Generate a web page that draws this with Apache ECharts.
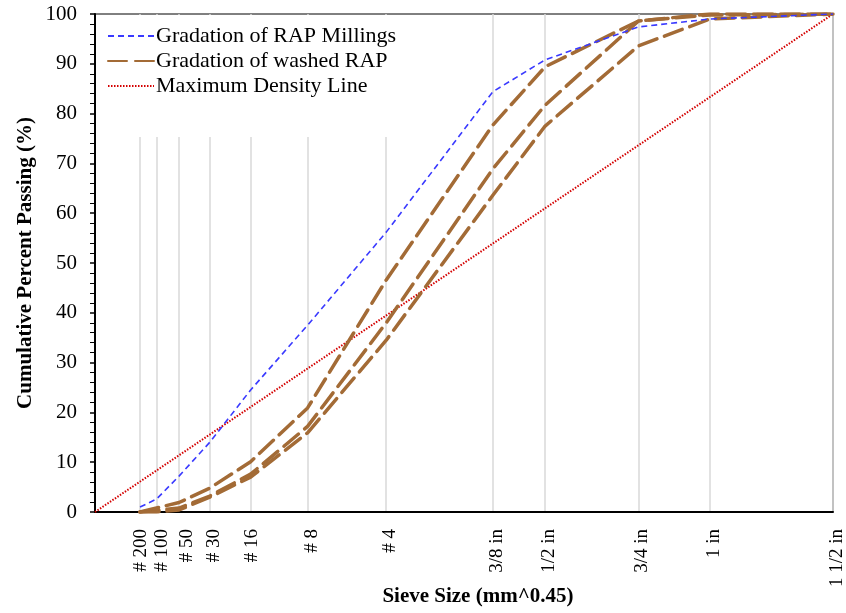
<!DOCTYPE html>
<html>
<head>
<meta charset="utf-8">
<script src="https://cdn.jsdelivr.net/npm/echarts@6/dist/echarts.min.js"></script>
<style>
html, body { margin: 0; padding: 0; background: #fff; }
#chart { width: 846px; height: 613px; }
</style>
</head>
<body>
<div id="chart"></div>
<script>
// sieves (name + opening in mm), x axis is mm^0.45
var sieveNames = ['# 200', '# 100', '# 50', '# 30', '# 16', '# 8', '# 4', '3/8 in', '1/2 in', '3/4 in', '1 in', '1 1/2 in'];
var sieveMm = [0.075, 0.15, 0.3, 0.6, 1.18, 2.36, 4.75, 9.5, 12.5, 19, 25, 37.5];

// percent passing
var rapMillings = [1.0, 2.6, 7.2, 14, 24.5, 37.5, 56.2, 84.4, 90.8, 97.4, 99, 100];
var washedA = [0, 0.8, 1.9, 4.8, 10.1, 20.9, 46.6, 77.7, 89.4, 98.6, 100, 100];
var washedB = [0, 0.3, 0.8, 3.2, 7.6, 17.2, 38, 68.9, 81.7, 98.6, 99.8, 100];
var washedC = [0, 0, 0.4, 3.0, 7.0, 15.9, 34.5, 63.6, 77.5, 93.6, 99, 100];

// maximum density line end points
var mdlMm = [0, 37.5];
var mdlPassing = [0, 100];

var SERIF = "'Liberation Serif', 'Times New Roman', serif";
var POW = 0.45;

function px(mm) { return Math.pow(mm, POW); }
function pairs(sizes, vals) {
	return sizes.map(function (s, i) { return [px(s), vals[i]]; });
}

var sieveX = sieveMm.map(px);
var brown = '#a36b36';

// nudge crowded tick labels sideways (rich style per label)
var labelStyle = { '# 200': 'n', '# 16': 'n', '# 100': 'w', '# 50': 'ww' };

function washed(vals) {
	return {
		name: 'Gradation of washed RAP',
		type: 'line',
		symbol: 'none',
		data: pairs(sieveMm, vals),
		lineStyle: { color: brown, width: 3.5, type: [19, 8], cap: 'round' },
		itemStyle: { color: brown },
		z: 3
	};
}

function tickFont(pad) {
	return { fontFamily: SERIF, fontSize: 19, color: '#000', padding: [pad, 0, 0, 0] };
}

var chart = echarts.init(document.getElementById('chart'));

chart.setOption({
	animation: false,
	backgroundColor: '#fff',
	textStyle: { fontFamily: SERIF },
	grid: {
		left: 95, right: 13, top: 14, bottom: 101,
		containLabel: false,
		outerBoundsMode: 'none',
		show: true, borderColor: '#000', borderWidth: 1
	},
	legend: {
		orient: 'vertical',
		left: 96, top: 15,
		padding: [10, 16, 40, 11],
		backgroundColor: '#fff',
		itemWidth: 46, itemHeight: 12, itemGap: 3,
		itemStyle: { opacity: 0, color: 'transparent', borderWidth: 0 },
		textStyle: { fontFamily: SERIF, fontSize: 22, color: '#000', padding: [0, 0, 0, -3] },
		data: ['Gradation of RAP Millings', 'Gradation of washed RAP', 'Maximum Density Line']
	},
	xAxis: {
		type: 'value',
		min: 0,
		max: px(37.5),
		name: 'Sieve Size (mm^0.45)',
		nameLocation: 'middle',
		nameGap: 74,
		nameMoveOverlap: false,
		nameTextStyle: { fontFamily: SERIF, fontSize: 21, fontWeight: 'bold', color: '#000', padding: [0, 0, 0, 28] },
		axisLine: { lineStyle: { color: '#000', width: 2 } },
		axisTick: { show: false, customValues: sieveX },
		axisLabel: {
			customValues: sieveX,
			hideOverlap: false,
			showMinLabel: true,
			showMaxLabel: true,
			rotate: 90,
			margin: 17,
			fontFamily: SERIF,
			fontSize: 19,
			color: '#000',
			formatter: function (v) {
				var best = 0;
				sieveX.forEach(function (x, i) {
					if (Math.abs(x - v) < Math.abs(sieveX[best] - v)) best = i;
				});
				var name = sieveNames[best];
				return '{' + (labelStyle[name] || 'd') + '|' + name + '}';
			},
			rich: { n: tickFont(2), d: tickFont(8), w: tickFont(12), ww: tickFont(16) }
		},
		splitLine: { show: true, lineStyle: { color: '#d9d9d9', width: 1.5 } }
	},
	yAxis: {
		type: 'value',
		min: 0, max: 100, interval: 10,
		name: 'Cumulative Percent Passing (%)',
		nameLocation: 'middle',
		nameGap: 59,
		nameMoveOverlap: false,
		nameTextStyle: { fontFamily: SERIF, fontSize: 21, fontWeight: 'bold', color: '#000' },
		axisLine: { show: true, lineStyle: { color: '#000', width: 2 } },
		axisTick: { show: true, inside: false, length: 5, lineStyle: { color: '#000', width: 1.5 } },
		minorTick: { show: true, splitNumber: 5, length: 5, lineStyle: { color: '#000', width: 1 } },
		axisLabel: { fontFamily: SERIF, fontSize: 21, color: '#000', margin: 18 },
		splitLine: { show: false }
	},
	series: [
		{
			name: 'Gradation of RAP Millings',
			type: 'line',
			symbol: 'none',
			data: pairs(sieveMm, rapMillings),
			lineStyle: { color: '#3a3aff', width: 1.6, type: [6, 4] },
			itemStyle: { color: '#3a3aff' },
			z: 4
		},
		washed(washedA),
		washed(washedB),
		washed(washedC),
		{
			name: 'Maximum Density Line',
			type: 'line',
			symbol: 'none',
			data: pairs(mdlMm, mdlPassing),
			lineStyle: { color: '#d40000', width: 2, type: [1.5, 1.5] },
			itemStyle: { color: '#d40000' },
			z: 2
		}
	]
});
</script>
</body>
</html>
